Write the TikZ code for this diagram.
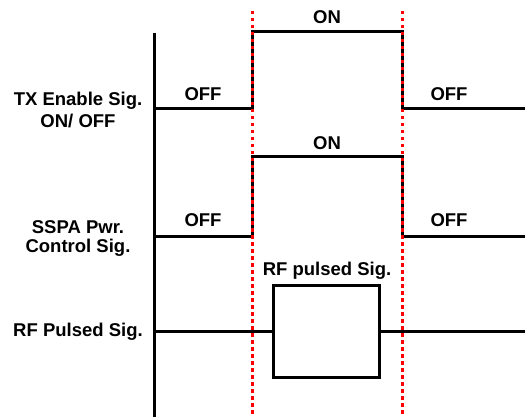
\documentclass[tikz,border=0pt]{standalone}
\usepackage{fontspec}
\setmainfont{Liberation Sans}
\begin{document}
\begin{tikzpicture}[x=1pt,y=-1pt,
  lbl/.style={font=\fontsize{18.5}{21}\selectfont\bfseries, inner sep=0pt, align=center},
  sig/.style={line width=3pt, line join=miter, black},
  marker/.style={red, line width=3pt, dash pattern=on 3.5pt off 3.5pt}]
\useasboundingbox (0,0) rectangle (525,417);
% axis
\coordinate (axT) at (154,33);
\coordinate (axB) at (154,417);
\draw[sig] (axT) -- (axB);
% TX enable
\coordinate (t0) at (154,109);
\coordinate (t1) at (252,109);
\coordinate (t2) at (252,32);
\coordinate (t3) at (402,32);
\coordinate (t4) at (402,109);
\coordinate (t5) at (525,109);
\draw[sig] (t0) -- (t1) -- (t2) -- (t3) -- (t4) -- (t5);
% SSPA
\coordinate (s0) at (154,236);
\coordinate (s1) at (252,236);
\coordinate (s2) at (252,157);
\coordinate (s3) at (402,157);
\coordinate (s4) at (402,236);
\coordinate (s5) at (525,236);
\draw[sig] (s0) -- (s1) -- (s2) -- (s3) -- (s4) -- (s5);
% RF
\coordinate (r0) at (154,331);
\coordinate (r5) at (525,331);
\node[draw, line width=3pt, minimum width=106pt, minimum height=92pt, inner sep=0pt] (box) at (326.5,331) {};
\draw[sig] (r0) -- (box.west);
\draw[sig] (box.east) -- (r5);
% markers
\coordinate (m1T) at (252,11);
\coordinate (m1B) at (252,417);
\coordinate (m2T) at (402,11);
\coordinate (m2B) at (402,417);
\draw[marker] (m1T) -- (m1B);
\draw[marker] (m2T) -- (m2B);
% labels
\node[lbl] (on1) at (327,17) {ON};
\node[lbl] (on2) at (327,143) {ON};
\node[lbl] (off1) at (203,94) {OFF};
\node[lbl] (off2) at (449,94) {OFF};
\node[lbl] (off3) at (203,220) {OFF};
\node[lbl] (off4) at (449,220) {OFF};
\node[lbl] (rfp) at (327,271) {RF pulsed Sig.};
\node[lbl] (txl) at (78,101) {TX Enable Sig.};
\node[lbl] (txl2) at (78,121) {ON/ OFF};
\node[lbl] (ssl) at (78,227) {SSPA Pwr.};
\node[lbl] (ssl2) at (78,248) {Control Sig.};
\node[lbl] (rfl) at (78,332) {RF Pulsed Sig.};
\end{tikzpicture}
\end{document}
